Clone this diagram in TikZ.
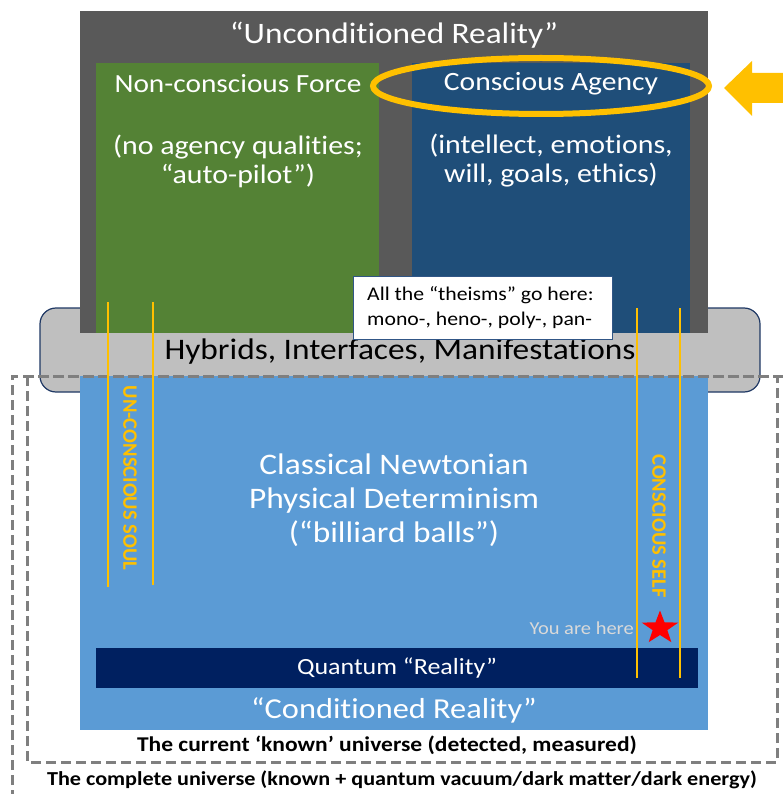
\documentclass[tikz,border=0pt]{standalone}
\usepackage{fontspec}
\setmainfont{Carlito}[FakeStretch=1.12, Ligatures={NoCommon}]
\newfontfamily\vfont{Carlito}[Ligatures={NoCommon}]
\usetikzlibrary{shapes.geometric}
\definecolor{darkgray}{HTML}{595959}
\definecolor{grn}{HTML}{548235}
\definecolor{dblue}{HTML}{1F4E79}
\definecolor{lblue}{HTML}{5B9BD5}
\definecolor{navy}{HTML}{002060}
\definecolor{gold}{HTML}{FFC000}
\definecolor{hyb}{HTML}{BFBFBF}
\definecolor{hybedge}{HTML}{1F3864}
\definecolor{dashc}{HTML}{7F7F7F}
\definecolor{herec}{HTML}{D9D9D9}
\tikzset{
  fs/.code={\pgfmathsetmacro\fsb{#1*1.2}\tikzset{font=\fontsize{#1}{\fsb}\selectfont}},
  wtext/.style={text=white, inner sep=0pt, align=center},
  goldline/.style={draw=gold, line width=2.5pt},
  dashline/.style={draw=dashc, line width=3pt, dash pattern=on 10pt off 5pt},
  vtext/.style={text=gold, rotate=-90, inner sep=0pt, font=\vfont\fontsize{20.5}{25}\selectfont\bfseries},
}
\begin{document}
\begin{tikzpicture}[x=1pt,y=-1pt]
\useasboundingbox (0,0) rectangle (783,794);
% hybrids band
\draw[fill=hyb, draw=hybedge, line width=1.2pt, rounded corners=16pt] (40,308) rectangle (760,392);
% upper boxes
\fill[darkgray] (80,11) rectangle (708,333);
\fill[grn] (96,63) rectangle (379,333);
\fill[dblue] (412,63) rectangle (690,333);
% lower box
\fill[lblue] (80,376) rectangle (708,730);
\fill[navy] (96,648) rectangle (698,688);
% dashed frames
\draw[dashline] (27,376) rectangle (777,762);
\draw[dashline] (12,800) -- (12,376) -- (800,376);
% texts upper
\node[wtext, fs=29.7] (uncond) at (394,35) {“Unconditioned Reality”};
\node[wtext, fs=26.2] (ncf) at (238,84) {Non-conscious Force};
\node[wtext, fs=26.7] (ncfd) at (238,161) {(no agency qualities;\\[-3pt]“auto-pilot”)};
\node[wtext, fs=26.4] (ca) at (551,84) {Conscious Agency};
\node[wtext, fs=26.7] (cad) at (551,161) {(intellect, emotions,\\[-3pt]will, goals, ethics)};
% ellipse highlight
\node[draw=gold, line width=6pt, ellipse, minimum width=336pt, minimum height=56pt, inner sep=0pt] (ell) at (541,86) {};
% arrow
\fill[gold] (724,88) -- (752,61) -- (752,73) -- (800,73) -- (800,103) -- (752,103) -- (752,116) -- cycle;
\coordinate (arrowtip) at (724,88);
% hybrids text
\node[inner sep=0pt, fs=29.8] (hybt) at (400,352) {Hybrids, Interfaces, Manifestations};
% theisms box
\node[draw=hybedge!70!lblue, fill=white, line width=0.8pt, minimum width=259pt, minimum height=63pt, inner sep=0pt] (theism) at (482.5,307.5) {};
\node[anchor=west, inner sep=0pt, fs=19.4, align=left] (theismt) at (367,307.5) {All the “theisms” go here:\\[1.7pt]mono-, heno-, poly-, pan-};
% gold lines
\draw[goldline] (108,302) -- (108,587);
\draw[goldline] (153,302) -- (153,585);
\draw[goldline] (637,308) -- (637,678);
\draw[goldline] (680,308) -- (680,678);
\node[vtext] (soul) at (130,478) {UN-CONSCIOUS SOUL};
\node[vtext] (self) at (659,526) {CONSCIOUS SELF};
% lower texts
\node[wtext, fs=29.8] (newton) at (394,500) {Classical Newtonian\\[-2pt]Physical Determinism\\[-2pt](“billiard balls”)};
\node[anchor=east, inner sep=0pt, fs=18.3, text=herec] (here) at (634,628) {You are here};
\node[star, star points=5, star point ratio=2.5, fill=red, minimum size=35pt, inner sep=0pt, xscale=1.1] (star) at (660,628) {};
\node[wtext, fs=23.2] (quant) at (397,668) {Quantum “Reality”};
\node[wtext, fs=28.9] (cond) at (394,710) {“Conditioned Reality”};
\node[inner sep=0pt, font=\fontsize{21}{25}\selectfont\bfseries] (known) at (387,745) {The current ‘known’ universe (detected, measured)};
\node[inner sep=0pt, font=\fontsize{19.8}{24}\selectfont\bfseries] (complete) at (402,780) {The complete universe (known + quantum vacuum/dark matter/dark energy)};
\end{tikzpicture}
\end{document}
